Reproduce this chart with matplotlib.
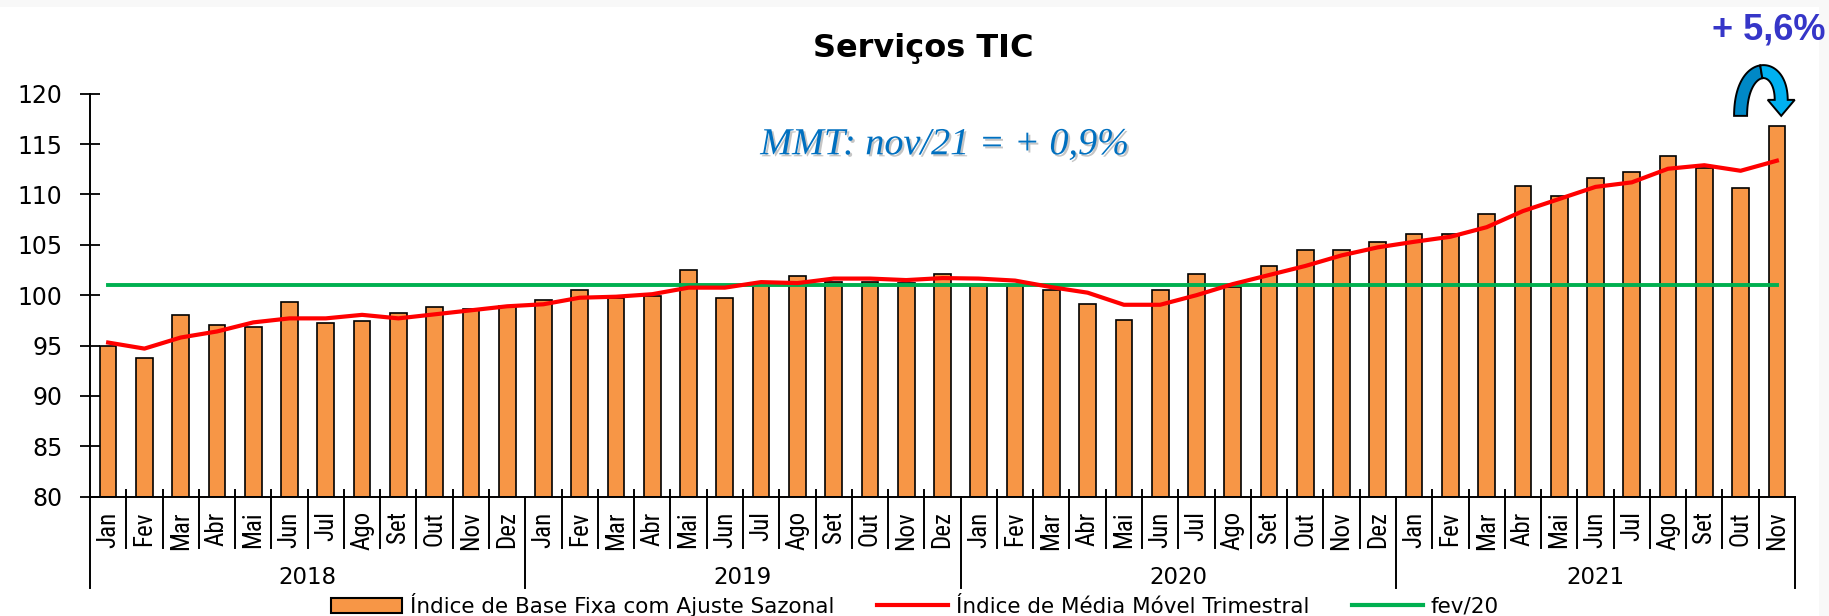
import numpy as np
import matplotlib
matplotlib.use('Agg')
import matplotlib.pyplot as plt
from matplotlib import font_manager as fm
from matplotlib.font_manager import FontProperties
from matplotlib.patches import Polygon, Rectangle, Patch
from matplotlib.lines import Line2D
import matplotlib.patheffects as pe
import matplotlib.transforms as mtransforms

# ---------------- data ----------------
months = (['Jan', 'Fev', 'Mar', 'Abr', 'Mai', 'Jun', 'Jul', 'Ago', 'Set', 'Out', 'Nov', 'Dez'] * 3
          + ['Jan', 'Fev', 'Mar', 'Abr', 'Mai', 'Jun', 'Jul', 'Ago', 'Set', 'Out', 'Nov'])
years = ['2018', '2019', '2020', '2021']
year_sizes = [12, 12, 12, 11]

index_sa = [95.0, 93.8, 98.0, 97.0, 96.8, 99.35, 97.2, 97.4, 98.2, 98.8, 98.6, 98.95,
            99.55, 100.55, 99.75, 99.9, 102.5, 99.75, 101.2, 101.9, 101.35, 101.35, 101.25, 102.1,
            100.9, 101.0, 100.5, 99.1, 97.55, 100.5, 102.1, 100.8, 102.9, 104.5, 104.5, 105.3,
            106.05, 106.05, 108.1, 110.85, 109.8, 111.6, 112.2, 113.85, 112.6, 110.6, 116.8]
mmt = [95.3, 94.7, 95.8, 96.4, 97.3, 97.7, 97.7, 98.05, 97.7, 98.1, 98.5, 98.9,
       99.1, 99.75, 99.85, 100.1, 100.75, 100.75, 101.3, 101.2, 101.65, 101.65, 101.5, 101.7,
       101.65, 101.45, 100.8, 100.25, 99.05, 99.05, 100.0, 101.1, 102.0, 102.9, 103.95, 104.75,
       105.3, 105.8, 106.75, 108.35, 109.55, 110.75, 111.2, 112.55, 112.9, 112.35, 113.35]
fev20 = 101.0

labels = ['Índice de Base Fixa com Ajuste Sazonal', 'Índice de Média Móvel Trimestral', 'fev/20']
title = 'Serviços TIC'
note = 'MMT: nov/21 = + 0,9%'
badge = '+ 5,6%'

# ---------------- fonts ----------------
cond_path = None
for name in ['Liberation Sans Narrow', 'Roboto Condensed', 'DejaVu Sans Condensed', 'Open Sans Condensed']:
    for f in fm.fontManager.ttflist:
        if f.name == name and f.style == 'normal' and f.weight in (400, 'normal', 'regular'):
            cond_path = f.fname
            break
    if cond_path:
        break
if cond_path is None:
    for f in fm.fontManager.ttflist:
        fn = f.fname
        if ('Condensed' in fn or 'Narrow' in fn) and not any(k in fn for k in ['Bold', 'Italic', 'Oblique', 'Light', 'Thin', 'Medium', 'Black', 'Semi']):
            cond_path = fn
            break
if cond_path:
    fp_month = FontProperties(fname=cond_path, size=18)
else:
    fp_month = FontProperties(family='Liberation Sans', size=15)

# ---------------- figure ----------------
W, H = 1829, 616
fig = plt.figure(figsize=(W / 100, H / 100), dpi=100)
fig.patch.set_facecolor('#F8F8F8')
fig.add_artist(Rectangle((0, 0), 1819 / W, 609 / H, transform=fig.transFigure,
                         facecolor='white', edgecolor='none', zorder=-10))

ax_left, ax_right, ax_top, ax_bottom = 90, 1795, 93.7, 496.7
ax = fig.add_axes([ax_left / W, (H - ax_bottom) / H, (ax_right - ax_left) / W, (ax_bottom - ax_top) / H])
ax.set_facecolor('none')
ax_hpx = ax_bottom - ax_top

x = np.arange(len(months))
ax.bar(x, np.array(index_sa) - 80, bottom=80, width=0.46, color='#F79646', edgecolor='black',
       linewidth=1.2, zorder=2)
ax.plot(x, mmt, color='#FF0000', lw=3.0, zorder=4, solid_joinstyle='round')
ax.plot([x[0], x[-1]], [fev20, fev20], color='#00B050', lw=2.8, zorder=3)

ax.set_xlim(-0.5, len(months) - 0.5)
ax.set_ylim(80, 120)
ax.set_yticks(np.arange(80, 121, 5))
ax.tick_params(axis='y', direction='inout', length=14.4, width=1.3, pad=12.5, labelsize=17)
for t in ax.get_yticklabels():
    t.set_family('DejaVu Sans')

ax.set_xticks(x)
ax.set_xticklabels(months, rotation=90)
for t in ax.get_xticklabels():
    t.set_fontproperties(fp_month)
ax.tick_params(axis='x', length=0, pad=10.5)

for s in ['top', 'right']:
    ax.spines[s].set_visible(False)
for s in ['left', 'bottom']:
    ax.spines[s].set_linewidth(1.4)

# category separators & year boundaries
trans = mtransforms.blended_transform_factory(ax.transData, ax.transAxes)
bounds = np.arange(len(months) + 1) - 0.5
year_bounds = np.concatenate([[0], np.cumsum(year_sizes)]) - 0.5
for b in bounds:
    if np.any(np.isclose(b, year_bounds)):
        ax.plot([b, b], [0, -91 / ax_hpx], transform=trans, clip_on=False, color='black', lw=1.4)
    else:
        ax.plot([b, b], [7 / ax_hpx, -51 / ax_hpx], transform=trans, clip_on=False, color='black', lw=1.4)

starts = np.concatenate([[0], np.cumsum(year_sizes)[:-1]])
for yr, st, n in zip(years, starts, year_sizes):
    ax.text(st + (n - 1) / 2, -(577 - ax_bottom) / ax_hpx, yr, transform=trans, ha='center', va='center',
            fontsize=16.5, family='DejaVu Sans')

# ---------------- texts ----------------
fig.text(923 / W, 1 - 48 / H, title, ha='center', va='center', fontsize=23, fontweight='bold',
         family='DejaVu Sans')
fig.text(945 / W, 1 - 145 / H, note, ha='center', va='center', fontsize=27.5, style='italic',
         family='Liberation Serif', color='#0070C0',
         path_effects=[pe.withSimplePatchShadow(offset=(1.5, -1.5), shadow_rgbFace='#7F7F7F', alpha=0.45)])
fig.text(1826 / W, 1 - 30 / H, badge, ha='right', va='center', fontsize=26, fontweight='bold',
         family='Liberation Sans', color='#3636C8')

# ---------------- curved arrow ----------------
p0 = ax.transData.transform((45.0, 117.8))
p3t = ax.transData.transform((46.12, 117.8))
x0, y0 = p0
x1, tip_y = p3t
head_len, head_half, shaft_half = 16.0, 13.5, 6.5
Hc = 56.0
P0 = np.array([x0, y0]); P1 = np.array([x0, y0 + Hc]); P2 = np.array([x1, y0 + Hc]); P3 = np.array([x1, tip_y + head_len])
t = np.linspace(0, 1, 80)[:, None]
pts = (1 - t) ** 3 * P0 + 3 * (1 - t) ** 2 * t * P1 + 3 * (1 - t) * t ** 2 * P2 + t ** 3 * P3
d = 3 * (1 - t) ** 2 * (P1 - P0) + 6 * (1 - t) * t * (P2 - P1) + 3 * t ** 2 * (P3 - P2)
nrm = np.stack([-d[:, 1], d[:, 0]], axis=1)
nrm /= np.linalg.norm(nrm, axis=1)[:, None]
A = pts + nrm * shaft_half
B = pts - nrm * shaft_half
half = 40
v1 = np.vstack([A[:half + 1], B[:half + 1][::-1]])
n_end = nrm[-1]
v2 = np.vstack([A[half:], [P3 + n_end * head_half], [[x1, tip_y]], [P3 - n_end * head_half], B[half:][::-1]])
ident = mtransforms.IdentityTransform()
fig.add_artist(Polygon(v1, closed=True, facecolor='#0088C6', edgecolor='black', lw=1.4, transform=ident, zorder=5))
fig.add_artist(Polygon(v2, closed=True, facecolor='#00B0F0', edgecolor='black', lw=1.4, transform=ident, zorder=5))

# ---------------- legend ----------------
handles = [Patch(facecolor='#F79646', edgecolor='black', linewidth=1.5),
           Line2D([], [], color='#FF0000', lw=3),
           Line2D([], [], color='#00B050', lw=3)]
leg = fig.legend(handles, labels, loc='center left', bbox_to_anchor=(331 / W, 11 / H), ncol=3,
                 frameon=False, handlelength=3.3, handletextpad=0.35, columnspacing=2.0,
                 borderaxespad=0, borderpad=0, prop={'family': 'DejaVu Sans', 'size': 15.5})

fig.savefig('out.png', dpi=100)
